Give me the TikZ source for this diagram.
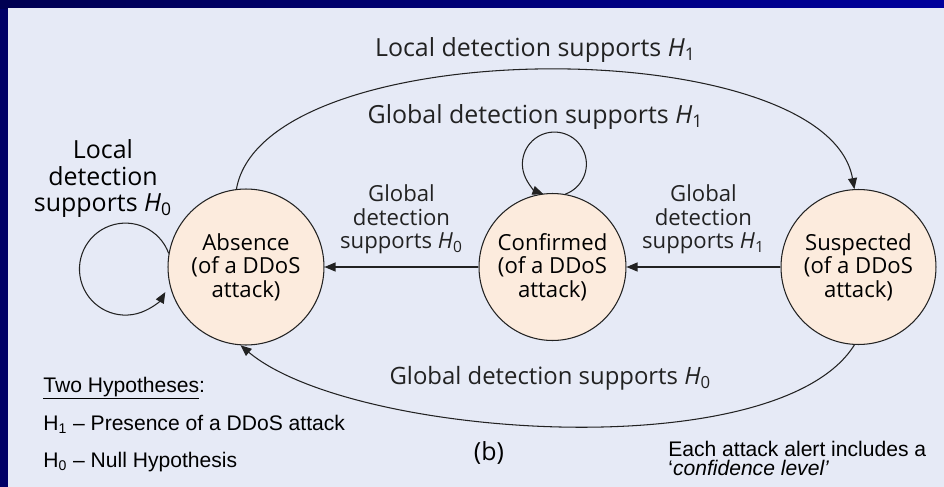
\documentclass[tikz,border=0pt]{standalone}
\usepackage{fontspec}
\setmainfont{Open Sans}
\newfontfamily\arial{Liberation Sans}
\usetikzlibrary{arrows.meta, positioning}
\definecolor{ramme}{HTML}{000066}
\definecolor{rammelys}{HTML}{00009C}
\definecolor{flade}{HTML}{E6EAF6}
\definecolor{kreds}{HTML}{FCEBDD}
\definecolor{streg}{HTML}{222222}
\newcommand{\hyp}[1]{\textit{H}\textsubscript{#1}}

\begin{document}
\begin{tikzpicture}[
    x=0.02cm, y=-0.02cm,
    node distance = 3.08cm,
    tilstand/.style = {circle, draw=streg, fill=kreds, line width=0.6pt,
        align=center, inner sep=0pt, minimum size=3.12cm,
        font=\fontsize{12.6}{13.4}\selectfont},
    stor/.style = {align=center, inner sep=1pt,
        font=\fontsize{14.2}{15.1}\selectfont},
    lille/.style = {align=center, inner sep=1pt,
        font=\fontsize{12.6}{13.4}\selectfont},
    note/.style = {anchor=base west, inner sep=0pt,
        font=\arial\fontsize{12}{12}\selectfont},
    pil/.style = {streg, line width=0.6pt, -{Triangle[length=2.2mm, width=1.8mm]}}
    ]
    % background
    \fill[ramme] (0,0) rectangle (944,487);
    \shade[left color=ramme!80!black, right color=rammelys] (0,0) rectangle (944,8);
    \fill[flade] (8,8) rectangle (944,487);
    \useasboundingbox (0,0) rectangle (944,487);

    %nodes
    \node[tilstand] (abs) at (246,267) {Absence\\(of a DDoS\\attack)};
    \node[tilstand, minimum size=2.94cm, right=of abs] (conf)
        {Confirmed\\(of a DDoS\\attack)};
    \node[tilstand, minimum size=3.1cm, right=of conf] (susp)
        {Suspected\\(of a DDoS\\attack)};

    \node[stor, anchor=south] (lh0) at (103,220) {Local\\detection\\supports \hyp{0}};
    \node[stor] (b) at (489,453) {(b)};

    \node[note] (two) at (43,392) {\underline{Two Hypotheses}:};
    \node[note] (h1) at (43,430) {H\textsubscript{1} – Presence of a DDoS attack};
    \node[note] (h0) at (43,467) {H\textsubscript{0} – Null Hypothesis};
    \node[note] (alert) at (668,456) {Each attack alert includes a};
    \node[note] (level) at (668,475) {‘\textit{confidence level’}};

    % edges
    \draw[pil] (abs.97) to[out=80, in=100, distance=3.22cm]
        node[stor, above, inner sep=4pt, xshift=-0.2cm] (lh1) {Local detection supports \hyp{1}}
        (susp.93);
    \draw[pil] (conf.80) arc[start angle=-70, end angle=250, radius=0.64cm]
        node[stor, pos=0.5, above, xshift=-0.38cm] (gh1) {Global detection supports \hyp{1}};
    \draw[pil] (abs.170) arc[start angle=20, end angle=330, radius=0.92cm];
    \draw[pil] (susp.267) to[out=238, in=-40, distance=2.9cm]
        node[stor, font=\fontsize{13.6}{15}\selectfont, above=19pt, xshift=-0.2cm] (gh0)
        {Global detection supports \hyp{0}}
        (abs.266);
    \draw[pil] (susp) -- node[lille, above=6pt] (sh1) {Global\\detection\\supports \hyp{1}} (conf);
    \draw[pil] (conf) -- node[lille, above=6pt] (ch0) {Global\\detection\\supports \hyp{0}} (abs);
\end{tikzpicture}
\end{document}
